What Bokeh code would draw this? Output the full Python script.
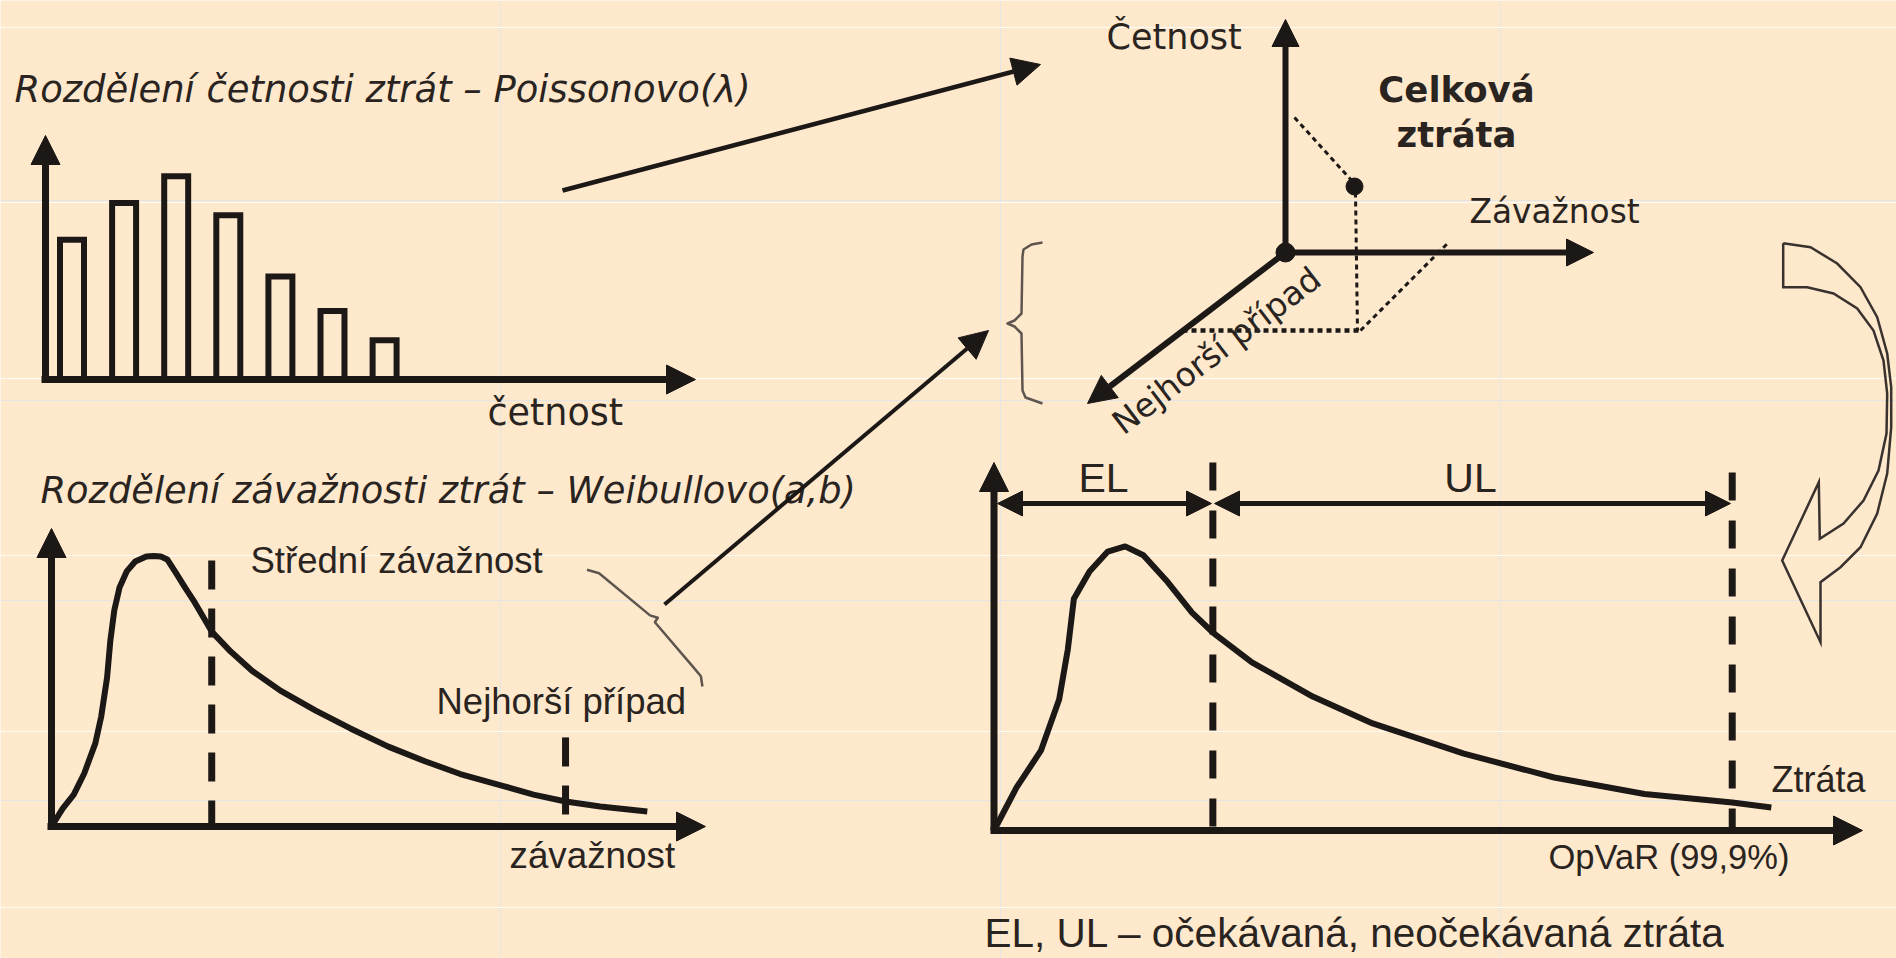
from bokeh.plotting import figure
from bokeh.models import Range1d, Arrow, NormalHead, FixedTicker, Grid
from bokeh.core.properties import value
from bokeh.embed import file_html
from bokeh.resources import INLINE

# ---------------- data ----------------
# Poisson frequency distribution (bars), relative heights
poisson_k = [1, 2, 3, 4, 5, 6, 7]
poisson_freq = [0.57, 0.72, 0.83, 0.67, 0.42, 0.28, 0.16]

# Weibull severity density
sev_x = [0.00, 0.17, 0.34, 0.50, 0.67, 0.76, 0.85, 0.90, 0.96, 1.04, 1.15, 1.28, 1.45, 1.56, 1.67,
         1.77, 1.90, 2.05, 2.19, 2.45, 2.74, 3.07, 3.50, 4.04, 4.57, 5.15, 5.72, 6.25, 6.87, 7.37,
         7.86, 8.39, 9.11]
sev_y = [0.000, 0.060, 0.107, 0.178, 0.279, 0.369, 0.500, 0.624, 0.725, 0.802, 0.856, 0.889, 0.906,
         0.908, 0.906, 0.896, 0.852, 0.799, 0.752, 0.654, 0.587, 0.522, 0.456, 0.389, 0.329, 0.268,
         0.218, 0.176, 0.138, 0.107, 0.084, 0.067, 0.050]
sev_mean = 2.45
sev_worst = 7.86

# Aggregate loss density
loss_x = [0.00, 0.26, 0.54, 0.75, 0.85, 0.92, 1.10, 1.31, 1.51, 1.72, 2.00, 2.28, 2.52, 2.97, 3.67,
          4.36, 5.41, 6.45, 7.49, 8.50, 8.95]
loss_y = [0.000, 0.117, 0.217, 0.356, 0.492, 0.630, 0.704, 0.758, 0.772, 0.748, 0.675, 0.592, 0.538,
          0.457, 0.364, 0.291, 0.209, 0.144, 0.099, 0.076, 0.0625]
loss_el = 2.52
loss_opvar = 8.50

labels = {
    "t1": "Rozdělení četnosti ztrát – Poissonovo(λ)",
    "x1": "četnost",
    "t2": "Rozdělení závažnosti ztrát – Weibullovo(a,b)",
    "mean": "Střední závažnost",
    "worst": "Nejhorší případ",
    "x2": "závažnost",
    "freq3d": "Četnost",
    "sev3d": "Závažnost",
    "worst3d": "Nejhorší případ",
    "total1": "Celková",
    "total2": "ztráta",
    "el": "EL",
    "ul": "UL",
    "loss": "Ztráta",
    "opvar": "OpVaR (99,9%)",
    "note": "EL, UL – očekávaná, neočekávaná ztráta",
}

scan_lines = [26.5, 202, 377.5, 554.5, 731, 907.3]

# ---------------- style ----------------
BG = "#FFE9CD"
INK = "#1c1816"
TXT = "#2a2421"
GREY = "#5e554e"
W, H = 1896, 958

p = figure(width=W, height=H, x_range=Range1d(0, W), y_range=Range1d(H, 0),
           output_backend="svg", toolbar_location=None, min_border=0,
           x_axis_location=None, y_axis_location=None,
           background_fill_color=BG, border_fill_color=BG, outline_line_color=None)
p.title.visible = False
p.add_layout(Grid(dimension=1, ticker=FixedTicker(ticks=scan_lines),
                  grid_line_color="white", grid_line_width=1, grid_line_alpha=0.9))

# panels: (origin_x, px per unit, origin_y, px per unit)
panels = {"pa": (19.4, 52.1, 379, 245), "pb": (51, 65.4, 826, 298), "pc": (993.5, 86.85, 830, 368)}
xr, yr = {}, {}
for name, (ox, sx, oy, sy) in panels.items():
    xr[name] = Range1d((0 - ox) / sx, (W - ox) / sx)
    yr[name] = Range1d((oy - H) / sy, (oy - 0) / sy)
p.extra_x_ranges = xr
p.extra_y_ranges = yr


def arrow(x0, y0, x1, y1, w=6, head=28, both=False, color=INK):
    h = NormalHead(size=head, fill_color=color, line_color=color, line_width=1)
    kw = {}
    if both:
        kw["start"] = NormalHead(size=head, fill_color=color, line_color=color, line_width=1)
    p.add_layout(Arrow(x_start=x0, y_start=y0, x_end=x1, y_end=y1, end=h, line_width=w,
                       line_color=color, **kw))


def label(x, y, s, font, size, style="normal", align="left", angle=0.0):
    p.text(x=[x], y=[y], text=[s], text_font=value(font), text_font_size=value(f"{size}px"),
           text_font_style=style, text_align=align, text_baseline="middle", angle=angle,
           text_color=TXT)


# ---------------- panel A: Poisson bars ----------------
bw = 0.23
p.quad(left=[k - bw for k in poisson_k], right=[k + bw for k in poisson_k],
       bottom=[0] * len(poisson_k), top=poisson_freq, fill_alpha=0, line_color=INK,
       line_width=6, line_join="miter", x_range_name="pa", y_range_name="pa")
arrow(45, 379, 45, 135, w=7, head=29)
arrow(41, 379, 695, 379, w=7, head=29)
label(14, 89, labels["t1"], "DejaVu Sans", 36.9, style="italic")
label(487, 412, labels["x1"], "DejaVu Sans", 36.5)

# ---------------- panel B: Weibull severity ----------------
p.line(sev_x, sev_y, line_color=INK, line_width=6, line_join="round",
       x_range_name="pb", y_range_name="pb")
p.segment(x0=[sev_mean, sev_worst], y0=[0.893, 0.299], x1=[sev_mean, sev_worst], y1=[0, 0],
          line_color=INK, line_width=7, line_dash="29 19", x_range_name="pb", y_range_name="pb")
arrow(51, 826, 51, 528, w=7, head=29)
arrow(47, 826, 705, 826, w=7, head=29)
label(40, 490, labels["t2"], "DejaVu Sans", 36.8, style="italic")
label(250, 560, labels["mean"], "Liberation Sans", 36.5)
label(436, 701, labels["worst"], "Liberation Sans", 36.5)
label(509, 855, labels["x2"], "Liberation Sans", 36.8)

# brace below "Střední závažnost"
p.line([586.5, 598.6, 649.5, 657.3, 654.4, 693.2, 700.4, 701.9],
       [569.3, 572.7, 614.9, 617.3, 621.8, 667.1, 675.7, 686.0],
       line_color=GREY, line_width=2.5, line_join="round")
arrow(664, 604, 988, 330, w=4, head=28)

# ---------------- arrow Poisson -> 3D ----------------
arrow(562, 190, 1040, 64, w=4.5, head=28)

# ---------------- 3D schematic ----------------
arrow(1285, 252, 1285, 19, w=6, head=27)
arrow(1285, 252, 1593, 252, w=6, head=27)
arrow(1285, 252, 1087, 403, w=6, head=28)
p.scatter([1285, 1354], [252, 186], size=[19, 17], color=INK)
p.multi_line(xs=[[1294, 1352], [1355, 1357], [1360, 1447]], ys=[[117, 181], [192, 330], [330, 243]],
             line_color=INK, line_width=3, line_dash="5 4")
p.line([1182, 1360], [330, 330], line_color=INK, line_width=4.5, line_dash="5 4")
p.line([1042, 1031, 1023, 1022, 1021, 1014, 1007, 1014, 1021, 1022, 1025, 1042],
       [242, 244, 249, 256, 313, 320, 323, 326, 333, 390, 397, 403],
       line_color=GREY, line_width=2.5, line_join="round")
label(1106, 36, labels["freq3d"], "DejaVu Sans", 35)
label(1469, 211, labels["sev3d"], "DejaVu Sans", 32.8)
label(1456, 88.5, labels["total1"], "DejaVu Sans", 35.5, style="bold", align="center")
label(1456, 134, labels["total2"], "DejaVu Sans", 35.5, style="bold", align="center")
label(1216, 350, labels["worst3d"], "DejaVu Sans", 33, align="center", angle=0.651)

# curved block arrow
bx = [1782.7, 1810, 1836.7, 1860, 1876.7, 1886.7, 1890.7, 1890.7, 1886.7, 1876.7, 1860, 1840, 1820,
      1820, 1781.7, 1818.3, 1819.3, 1843, 1863, 1878, 1886, 1886.7, 1883, 1873, 1856.7, 1833, 1806.7,
      1782.7, 1782.7]
by = [242.7, 246.7, 263, 286.7, 316.7, 353, 386.7, 426.7, 473, 513, 546.7, 566.7, 581.7,
      641.7, 560, 481.7, 538.3, 523, 500, 470, 433, 393, 360, 330, 308, 293, 286.7,
      286.7, 242.7]
p.line(bx, by, line_color="#3a322e", line_width=2.5, line_join="miter")

# ---------------- panel C: aggregate loss ----------------
p.line(loss_x, loss_y, line_color=INK, line_width=6, line_join="round",
       x_range_name="pc", y_range_name="pc")
p.segment(x0=[loss_el, loss_opvar], y0=[1.0, 0.973], x1=[loss_el, loss_opvar], y1=[0, 0],
          line_color=INK, line_width=7, line_dash="28 20", x_range_name="pc", y_range_name="pc")
arrow(993.5, 830, 993.5, 462, w=7, head=29)
arrow(990, 830, 1862, 830, w=7, head=29)
arrow(997, 503, 1211, 503, w=5, head=25, both=True)
arrow(1214, 503, 1730, 503, w=5, head=25, both=True)
label(1103, 477, labels["el"], "Liberation Sans", 41, align="center")
label(1470, 477, labels["ul"], "Liberation Sans", 41, align="center")
label(1771, 779, labels["loss"], "Liberation Sans", 36)
label(1548, 856, labels["opvar"], "Liberation Sans", 34.5)
label(984, 932, labels["note"], "Liberation Sans", 40.5)

open("out.html", "w").write(file_html(p, INLINE))
